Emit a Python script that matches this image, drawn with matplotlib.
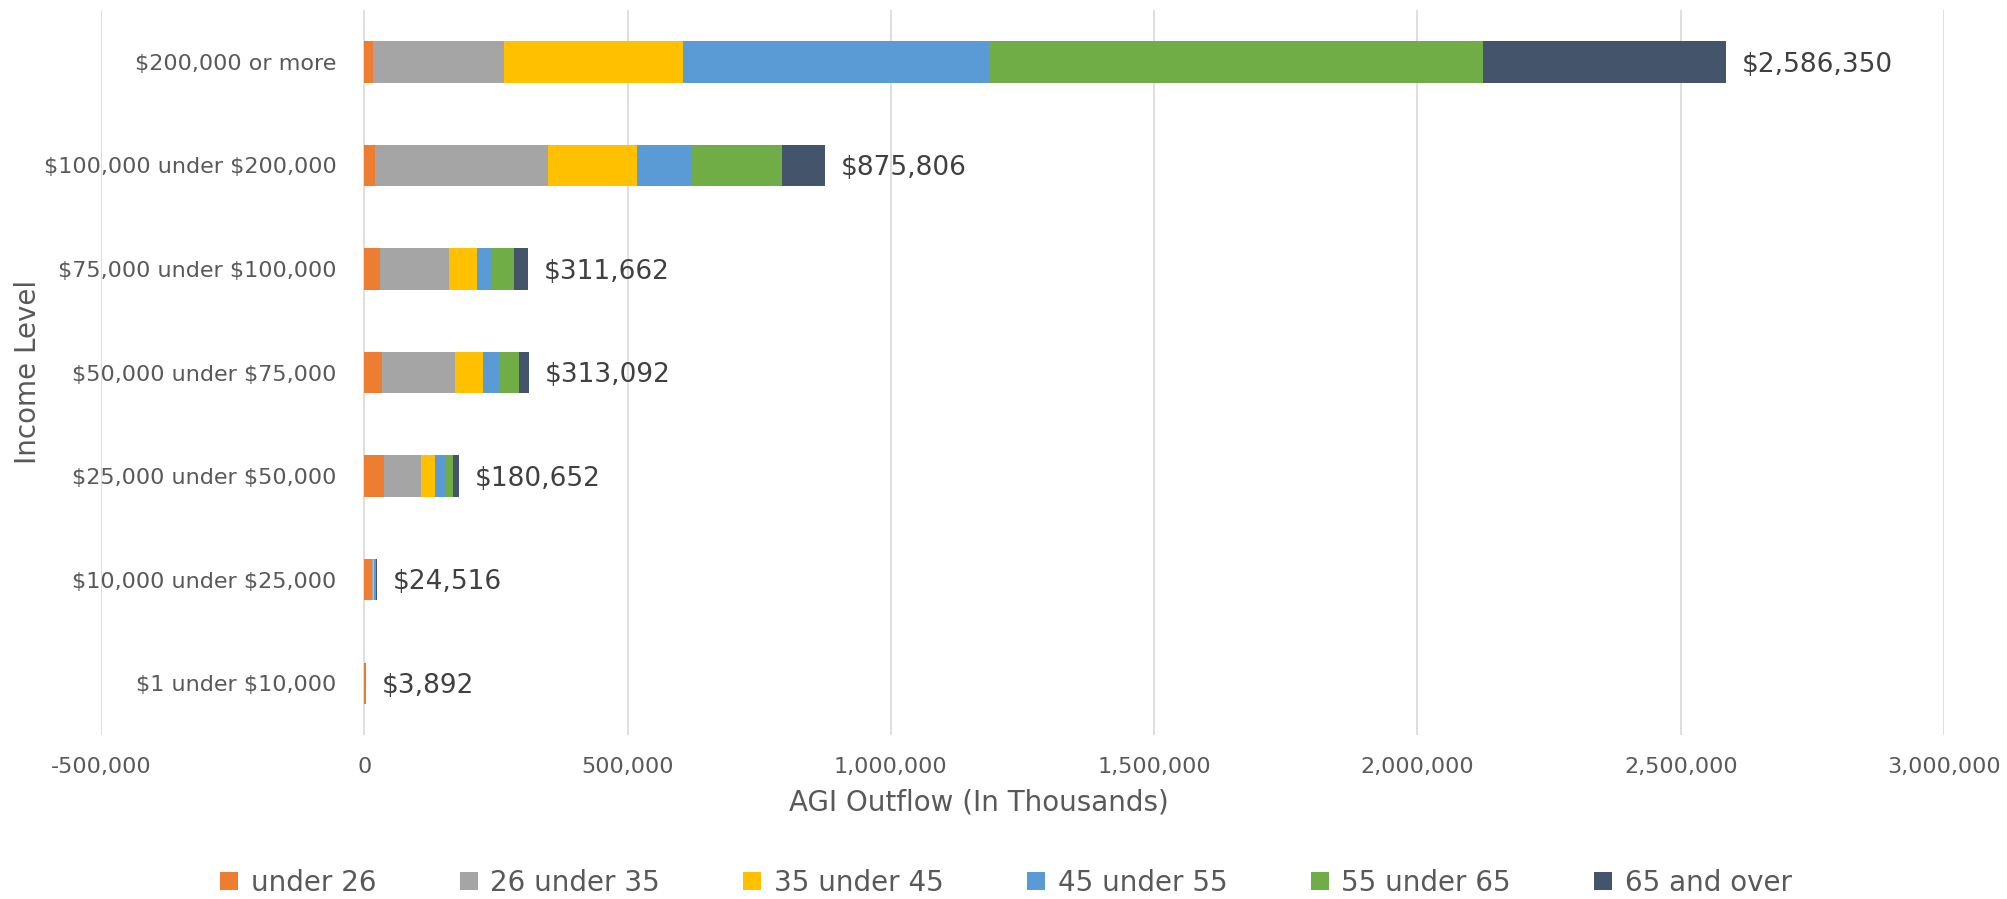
import matplotlib.pyplot as plt
import numpy as np
from matplotlib.ticker import FuncFormatter

plt.rcParams['text.parse_math'] = False

# income levels, bottom to top
levels = ['$1 under $10,000', '$10,000 under $25,000', '$25,000 under $50,000',
          '$50,000 under $75,000', '$75,000 under $100,000',
          '$100,000 under $200,000', '$200,000 or more']
totals = [3892, 24516, 180652, 313092, 311662, 875806, 2586350]

ages = ['under 26', '26 under 35', '35 under 45', '45 under 55', '55 under 65', '65 and over']
under26 = [500, 14000, 37300, 33500, 29000, 19400, 17000]
a26_35 = [900, 3000, 70300, 139300, 132300, 329800, 247600]
a35_45 = [400, 1500, 27200, 52500, 52500, 168800, 341000]
a45_55 = [400, 1000, 20300, 31700, 27200, 102800, 581500]
a55_65 = [1100, 3500, 13300, 36000, 43700, 172600, 938000]
a65_up = [592, 1516, 12252, 20092, 26962, 82406, 461350]

colors = ['#ED7D31', '#A5A5A5', '#FFC000', '#5B9BD5', '#70AD47', '#44546A']
series = [under26, a26_35, a35_45, a45_55, a55_65, a65_up]

fig = plt.figure(figsize=(20.07, 8.99), dpi=100)
ax = fig.add_axes([101 / 2007, 1 - 735 / 899, 1843 / 2007, 725 / 899])

y = np.arange(len(levels))
left = np.zeros(len(levels))
for vals, c, name in zip(series, colors, ages):
    ax.barh(y, vals, left=left, height=0.4, color=c, label=name, zorder=3)
    left += np.array(vals)

for yi, t in zip(y, totals):
    ax.annotate('${:,}'.format(t), (t, yi), xytext=(11, -2), textcoords='offset points',
                va='center', ha='left', fontsize=19, color='#404040')

ax.set_xlim(-500000, 3000000)
ax.set_ylim(-0.5, len(levels) - 0.5)
ax.set_xticks(np.arange(-500000, 3000001, 500000))
ax.xaxis.set_major_formatter(FuncFormatter(lambda v, p: '{:,.0f}'.format(v)))
ax.grid(axis='x', color='#D9D9D9', linewidth=1.2, zorder=0)

ax.set_yticks(y)
ax.set_yticklabels(levels)
ax.spines['left'].set_position(('data', 0))
for s in ax.spines.values():
    s.set_visible(False)
ax.tick_params(axis='y', length=0, pad=20, labelsize=16, labelcolor='#595959')
ax.tick_params(axis='x', length=0, pad=16, labelsize=16, labelcolor='#595959')

fig.text(979 / 2007, 1 - 803 / 899, 'AGI Outflow (In Thousands)', ha='center', va='center',
         fontsize=20, color='#595959')
fig.text(28 / 2007, 1 - 372 / 899, 'Income Level', ha='center', va='center',
         rotation=90, fontsize=20, color='#595959')

fig.legend(loc='center', bbox_to_anchor=(1006 / 2007, 1 - 883 / 899), ncol=6, frameon=False,
           fontsize=20, handlelength=0.65, handleheight=0.62, handletextpad=0.45,
           columnspacing=3.0, labelcolor='#595959')

fig.savefig('out.png', dpi=100)
